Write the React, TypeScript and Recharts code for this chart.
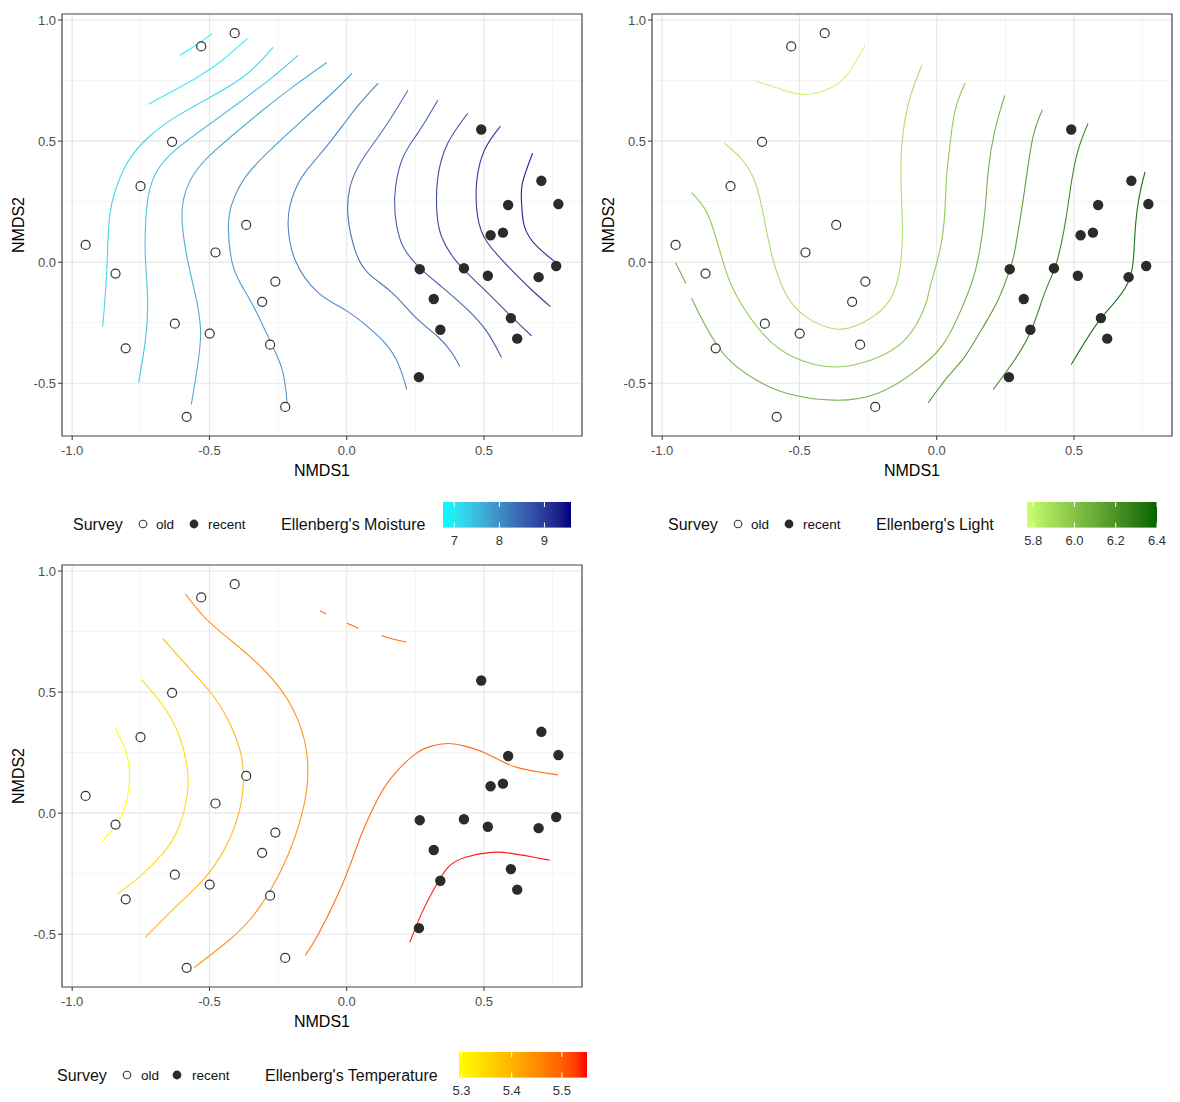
import React from 'react';
import { ComposedChart, Scatter, XAxis, YAxis, CartesianGrid, ReferenceArea } from 'recharts';

// NMDS site scores, identical in the three panels
const oldSites = [
  [-0.530, 0.891], [-0.408, 0.946], [-0.636, 0.497], [-0.751, 0.314], [-0.951, 0.071],
  [-0.842, -0.047], [-0.805, -0.356], [-0.626, -0.254], [-0.499, -0.295], [-0.478, 0.040],
  [-0.366, 0.154], [-0.260, -0.080], [-0.308, -0.164], [-0.279, -0.341], [-0.583, -0.639],
  [-0.224, -0.598],
];
const recentSites = [
  [0.490, 0.548], [0.709, 0.336], [0.771, 0.240], [0.588, 0.236], [0.524, 0.111],
  [0.569, 0.122], [0.266, -0.029], [0.427, -0.025], [0.514, -0.056], [0.699, -0.062],
  [0.763, -0.016], [0.317, -0.152], [0.341, -0.279], [0.598, -0.231], [0.621, -0.316],
  [0.263, -0.475],
];

const xDomain = [-1.037, 0.857];
const yDomain = [-0.718, 1.025];
const xMajor = [-1, -0.5, 0, 0.5];
const yMajor = [-0.5, 0, 0.5, 1];
const xMinor = [-0.75, -0.25, 0.25, 0.75];
const yMinor = [-0.25, 0.25, 0.75];

// --- Ellenberg's Moisture contours (ordisurf)
const moist1 = [[-0.609, 0.854], [-0.551, 0.895], [-0.489, 0.945]];
const moist2 = [[-0.722, 0.652], [-0.642, 0.702], [-0.551, 0.759], [-0.453, 0.834], [-0.362, 0.924]];
const moist3 = [[-0.889, -0.267], [-0.878, -0.114], [-0.871, 0.051], [-0.863, 0.195], [-0.842, 0.298], [-0.798, 0.413], [-0.722, 0.516], [-0.624, 0.599], [-0.504, 0.677], [-0.369, 0.772], [-0.268, 0.887]];
const moist4 = [[-0.758, -0.497], [-0.733, -0.320], [-0.725, -0.155], [-0.733, 0.009], [-0.733, 0.145], [-0.722, 0.277], [-0.689, 0.380], [-0.624, 0.463], [-0.515, 0.557], [-0.380, 0.669], [-0.271, 0.763], [-0.177, 0.854]];
const moist5 = [[-0.566, -0.588], [-0.540, -0.403], [-0.533, -0.267], [-0.551, -0.135], [-0.576, -0.011], [-0.598, 0.145], [-0.595, 0.256], [-0.569, 0.339], [-0.515, 0.422], [-0.424, 0.516], [-0.315, 0.619], [-0.188, 0.731], [-0.072, 0.825]];
const moist6 = [[-0.217, -0.588], [-0.235, -0.444], [-0.286, -0.308], [-0.333, -0.197], [-0.380, -0.102], [-0.417, -0.003], [-0.431, 0.145], [-0.417, 0.244], [-0.369, 0.351], [-0.279, 0.463], [-0.162, 0.586], [-0.042, 0.710], [0.019, 0.780]];
const moist7 = [[0.219, -0.526], [0.186, -0.415], [0.139, -0.333], [0.077, -0.267], [-0.006, -0.197], [-0.104, -0.126], [-0.188, 0.009], [-0.213, 0.145], [-0.206, 0.236], [-0.170, 0.339], [-0.115, 0.422], [-0.061, 0.496], [-0.006, 0.578], [0.048, 0.656], [0.114, 0.739]];
const moist8 = [[0.412, -0.431], [0.383, -0.374], [0.332, -0.308], [0.248, -0.225], [0.165, -0.126], [0.077, -0.044], [0.030, 0.051], [0.005, 0.187], [0.012, 0.310], [0.056, 0.422], [0.139, 0.557], [0.223, 0.710]];
const moist9 = [[0.564, -0.394], [0.513, -0.291], [0.441, -0.197], [0.346, -0.102], [0.274, -0.032], [0.212, 0.051], [0.183, 0.145], [0.175, 0.269], [0.201, 0.422], [0.259, 0.533], [0.332, 0.669]];
const moist10 = [[0.673, -0.304], [0.600, -0.225], [0.491, -0.102], [0.404, -0.003], [0.346, 0.104], [0.328, 0.215], [0.332, 0.351], [0.368, 0.491], [0.441, 0.615]];
const moist11 = [[0.742, -0.184], [0.673, -0.114], [0.600, -0.032], [0.513, 0.080], [0.477, 0.187], [0.473, 0.327], [0.502, 0.463], [0.560, 0.562]];
const moist12 = [[0.764, -0.003], [0.695, 0.063], [0.648, 0.145], [0.637, 0.244], [0.640, 0.327], [0.677, 0.450]];
const moistLines = [moist1, moist2, moist3, moist4, moist5, moist6, moist7, moist8, moist9, moist10, moist11, moist12];
const moistLevels = [6.75, 7.0, 7.25, 7.5, 7.75, 8.0, 8.25, 8.5, 8.75, 9.0, 9.25, 9.5];
const moistLimits = [6.75, 9.59];
const moistBreaks = [7, 8, 9];

// --- Ellenberg's Light contours
const lightArc = [[-0.660, 0.748], [-0.575, 0.717], [-0.490, 0.693], [-0.406, 0.710], [-0.333, 0.765], [-0.261, 0.895]];
const lightU1 = [[-0.775, 0.493], [-0.708, 0.422], [-0.660, 0.326], [-0.630, 0.188], [-0.599, 0.023], [-0.551, -0.128], [-0.478, -0.224], [-0.369, -0.276], [-0.272, -0.251], [-0.188, -0.183], [-0.139, -0.059], [-0.125, 0.147], [-0.130, 0.422], [-0.103, 0.655], [-0.054, 0.813]];
const lightU2 = [[-0.893, 0.287], [-0.842, 0.215], [-0.805, 0.105], [-0.769, -0.032], [-0.721, -0.155], [-0.624, -0.307], [-0.515, -0.396], [-0.376, -0.433], [-0.236, -0.403], [-0.115, -0.320], [-0.043, -0.183], [-0.024, -0.101], [0.012, 0.051], [0.030, 0.215], [0.036, 0.353], [0.049, 0.490], [0.067, 0.627], [0.103, 0.740]];
const lightShort = [[-0.951, -0.002], [-0.914, -0.087]];
const lightU3 = [[-0.893, -0.148], [-0.854, -0.238], [-0.805, -0.334], [-0.745, -0.416], [-0.660, -0.485], [-0.551, -0.540], [-0.376, -0.570], [-0.212, -0.540], [-0.079, -0.451], [0.018, -0.348], [0.078, -0.224], [0.127, -0.087], [0.157, 0.051], [0.176, 0.215], [0.188, 0.380], [0.212, 0.545], [0.248, 0.689]];
const lightD = [[-0.031, -0.581], [0.042, -0.471], [0.103, -0.389], [0.163, -0.279], [0.224, -0.155], [0.266, -0.032], [0.285, 0.051], [0.309, 0.215], [0.327, 0.353], [0.351, 0.518], [0.385, 0.630]];
const lightE = [[0.206, -0.526], [0.284, -0.403], [0.345, -0.279], [0.393, -0.128], [0.430, -0.025], [0.454, 0.078], [0.472, 0.188], [0.490, 0.326], [0.515, 0.463], [0.551, 0.573]];
const lightF = [[0.490, -0.423], [0.599, -0.231], [0.696, -0.087], [0.720, 0.078], [0.730, 0.215], [0.745, 0.311], [0.759, 0.373]];
const lightLines = [lightArc, lightU1, lightU2, lightShort, lightU3, lightD, lightE, lightF];
const lightLevels = [5.8, 5.9, 6.0, 6.1, 6.1, 6.2, 6.3, 6.4];
const lightLimits = [5.77, 6.4];
const lightBreaks = [5.8, 6.0, 6.2, 6.4];

// --- Ellenberg's Temperature contours
const temp1 = [[-0.844, 0.353], [-0.805, 0.257], [-0.791, 0.161], [-0.799, 0.064], [-0.830, -0.032], [-0.890, -0.114]];
const temp2 = [[-0.747, 0.552], [-0.672, 0.449], [-0.612, 0.326], [-0.581, 0.188], [-0.581, 0.078], [-0.612, -0.059], [-0.672, -0.169], [-0.757, -0.265], [-0.835, -0.334]];
const temp3 = [[-0.670, 0.721], [-0.575, 0.600], [-0.490, 0.490], [-0.430, 0.380], [-0.388, 0.257], [-0.376, 0.133], [-0.394, -0.004], [-0.442, -0.142], [-0.515, -0.265], [-0.612, -0.375], [-0.733, -0.513]];
const temp4 = [[-0.587, 0.905], [-0.515, 0.806], [-0.418, 0.710], [-0.321, 0.614], [-0.236, 0.504], [-0.176, 0.380], [-0.145, 0.243], [-0.145, 0.105], [-0.170, -0.032], [-0.212, -0.169], [-0.272, -0.307], [-0.345, -0.430], [-0.430, -0.526], [-0.557, -0.639]];
const tempTopA = [[-0.097, 0.835], [-0.075, 0.823]];
const tempTopB = [[0.000, 0.785], [0.042, 0.764]];
const tempTopC = [[0.127, 0.734], [0.175, 0.717], [0.218, 0.707]];
const tempS = [[-0.151, -0.588], [-0.103, -0.499], [-0.031, -0.334], [0.018, -0.197], [0.054, -0.087], [0.103, 0.037], [0.163, 0.147], [0.248, 0.243], [0.309, 0.277], [0.369, 0.288], [0.430, 0.277], [0.502, 0.250], [0.563, 0.215], [0.623, 0.188], [0.696, 0.171], [0.769, 0.158]];
const tempRed = [[0.230, -0.533], [0.272, -0.416], [0.321, -0.307], [0.369, -0.224], [0.430, -0.183], [0.527, -0.162], [0.599, -0.166], [0.672, -0.180], [0.739, -0.194]];
const tempLines = [temp1, temp2, temp3, temp4, tempTopA, tempTopB, tempTopC, tempS, tempRed];
const tempLevels = [5.3, 5.35, 5.4, 5.45, 5.5, 5.5, 5.5, 5.5, 5.55];
const tempLimits = [5.295, 5.55];
const tempBreaks = [5.3, 5.4, 5.5];

// colour ramp in CIELAB, like ggplot's scale_colour_gradient
const lin = (c: number) => {
  const v = c / 255;
  return v <= 0.04045 ? v / 12.92 : Math.pow((v + 0.055) / 1.055, 2.4);
};
const gam = (c: number) => {
  const v = c <= 0.0031308 ? 12.92 * c : 1.055 * Math.pow(c, 1 / 2.4) - 0.055;
  return Math.round(Math.min(1, Math.max(0, v)) * 255);
};
const hexToLab = (hex: string) => {
  const r = lin(parseInt(hex.slice(1, 3), 16));
  const g = lin(parseInt(hex.slice(3, 5), 16));
  const b = lin(parseInt(hex.slice(5, 7), 16));
  const X = (0.4124564 * r + 0.3575761 * g + 0.1804375 * b) / 0.95047;
  const Y = 0.2126729 * r + 0.7151522 * g + 0.072175 * b;
  const Z = (0.0193339 * r + 0.119192 * g + 0.9503041 * b) / 1.08883;
  const f = (t: number) => (t > 216 / 24389 ? Math.cbrt(t) : ((24389 / 27) * t + 16) / 116);
  const fx = f(X), fy = f(Y), fz = f(Z);
  return [116 * fy - 16, 500 * (fx - fy), 200 * (fy - fz)];
};
const labToHex = (lab: number[]) => {
  const fy = (lab[0] + 16) / 116, fx = fy + lab[1] / 500, fz = fy - lab[2] / 200;
  const inv = (t: number) => (t ** 3 > 216 / 24389 ? t ** 3 : (116 * t - 16) / (24389 / 27));
  const X = inv(fx) * 0.95047, Y = inv(fy), Z = inv(fz) * 1.08883;
  const r = 3.2404542 * X - 1.5371385 * Y - 0.4985314 * Z;
  const g = -0.969266 * X + 1.8760108 * Y + 0.041556 * Z;
  const b = 0.0556434 * X - 0.2040259 * Y + 1.0572252 * Z;
  return '#' + [r, g, b].map(gam).map((v) => v.toString(16).padStart(2, '0')).join('');
};
const mix = (low: string, high: string, t: number) => {
  const a = hexToLab(low), b = hexToLab(high);
  const k = Math.min(1, Math.max(0, t));
  return labToHex(a.map((v, i) => v + (b[i] - v) * k));
};

const toXY = (pts: number[][]) => pts.map(([x, y]) => ({ x, y }));
const fmt = (v: number) => v.toFixed(1);
const font = '"Liberation Sans", Arial, Helvetica, sans-serif';

const NoDot = () => <g />;
const OpenDot = (p: any) => <circle cx={p.cx} cy={p.cy} r={4.5} fill="#fff" stroke="#333" strokeWidth={1.2} />;
const FilledDot = (p: any) => <circle cx={p.cx} cy={p.cy} r={5.2} fill="#2b2b2b" />;

const XTitle = (p: any) => {
  const vb = p.viewBox;
  return (
    <text x={vb.x + vb.width / 2} y={vb.y + 40} textAnchor="middle" fontSize={16} fill="#000">NMDS1</text>
  );
};
const YTitle = (p: any) => {
  const vb = p.viewBox;
  const cy = vb.y + vb.height / 2;
  return (
    <text x={24} y={cy} transform={`rotate(-90 24 ${cy})`} textAnchor="middle" fontSize={16} fill="#000">NMDS2</text>
  );
};

const Panel = ({ left, top, lines, levels, limits, low, high }: any) => (
  <div style={{ position: 'absolute', left, top }}>
    <ComposedChart width={600} height={482} margin={{ top: 14, right: 18, bottom: 0, left: 0 }}>
      <CartesianGrid verticalValues={xMinor} horizontalValues={yMinor} stroke="#f2f2f2" strokeWidth={0.8} />
      <CartesianGrid verticalValues={xMajor} horizontalValues={yMajor} stroke="#e6e6e6" strokeWidth={1.1} />
      <XAxis
        type="number" dataKey="x" domain={xDomain} ticks={xMajor} interval={0} allowDataOverflow
        tickFormatter={fmt} tick={{ fill: '#4d4d4d', fontSize: 13 }} tickLine={{ stroke: '#333' }}
        tickSize={4} tickMargin={6} axisLine={false} height={46} label={{ content: XTitle }}
      />
      <YAxis
        type="number" dataKey="y" domain={yDomain} ticks={yMajor} interval={0} allowDataOverflow
        tickFormatter={fmt} tick={{ fill: '#4d4d4d', fontSize: 13 }} tickLine={{ stroke: '#333' }}
        tickSize={4} tickMargin={2} axisLine={false} width={62} label={{ content: YTitle }}
      />
      {lines.map((pts: number[][], i: number) => {
        const col = mix(low, high, (levels[i] - limits[0]) / (limits[1] - limits[0]));
        return (
          <Scatter
            key={i} data={toXY(pts)} fill={col} shape={NoDot}
            line={{ stroke: col, strokeWidth: 1.1, strokeOpacity: 0.9 }}
            lineType="joint" lineJointType="natural" isAnimationActive={false}
          />
        );
      })}
      <Scatter data={toXY(oldSites)} shape={OpenDot} isAnimationActive={false} />
      <Scatter data={toXY(recentSites)} shape={FilledDot} isAnimationActive={false} />
      <ReferenceArea
        x1={xDomain[0]} x2={xDomain[1]} y1={yDomain[0]} y2={yDomain[1]}
        fill="none" stroke="#444" strokeWidth={1.2} ifOverflow="visible"
      />
    </ComposedChart>
  </div>
);

const Txt = ({ x, y, size, children }: any) => (
  <div style={{ position: 'absolute', left: x, top: y - 10, height: 20, lineHeight: '20px', fontSize: size, whiteSpace: 'nowrap', color: '#111' }}>
    {children}
  </div>
);

const Legend = ({ lay, title, low, high, limits, breaks, digits }: any) => {
  const barH = 25.6;
  const stops = Array.from({ length: 11 }, (_, i) => i / 10);
  const pos = (v: number) => ((v - limits[0]) / (limits[1] - limits[0])) * lay.barW;
  const gid = 'g' + title.replace(/[^a-z]/gi, '');
  return (
    <>
      <Txt x={lay.survey} y={lay.textY} size={16}>Survey</Txt>
      <svg style={{ position: 'absolute', left: lay.oldDot - 6, top: lay.textY - 7 }} width={12} height={12}>
        <circle cx={6} cy={6} r={3.8} fill="#fff" stroke="#333" strokeWidth={1.1} />
      </svg>
      <Txt x={lay.oldLabel} y={lay.textY} size={13.5}>old</Txt>
      <svg style={{ position: 'absolute', left: lay.recentDot - 6, top: lay.textY - 7 }} width={12} height={12}>
        <circle cx={6} cy={6} r={4.4} fill="#2b2b2b" />
      </svg>
      <Txt x={lay.recentLabel} y={lay.textY} size={13.5}>recent</Txt>
      <Txt x={lay.titleX} y={lay.textY} size={16}>{title}</Txt>
      <svg style={{ position: 'absolute', left: lay.barX, top: lay.barY }} width={lay.barW} height={barH}>
        <defs>
          <linearGradient id={gid} x1="0" x2="1" y1="0" y2="0">
            {stops.map((t) => <stop key={t} offset={t} stopColor={mix(low, high, t)} />)}
          </linearGradient>
        </defs>
        <rect x={0} y={0} width={lay.barW} height={barH} fill={`url(#${gid})`} />
        {breaks.map((b: number) => (
          <g key={b} stroke="#fff" strokeWidth={1}>
            <line x1={pos(b)} x2={pos(b)} y1={0} y2={5} />
            <line x1={pos(b)} x2={pos(b)} y1={barH - 5} y2={barH} />
          </g>
        ))}
      </svg>
      {breaks.map((b: number) => (
        <div key={b} style={{ position: 'absolute', left: lay.barX + pos(b) - 20, width: 40, textAlign: 'center', top: lay.barY + 31, fontSize: 13, lineHeight: '16px', color: '#333' }}>
          {b.toFixed(digits)}
        </div>
      ))}
    </>
  );
};

const layMoist = { survey: 73, oldDot: 143, oldLabel: 156, recentDot: 194, recentLabel: 208, titleX: 281, barX: 443, barW: 128, barY: 502, textY: 525 };
const layLight = { survey: 668, oldDot: 738, oldLabel: 751, recentDot: 789, recentLabel: 803, titleX: 876, barX: 1027, barW: 130, barY: 502, textY: 525 };
const layTemp = { survey: 57, oldDot: 127, oldLabel: 141, recentDot: 177, recentLabel: 192, titleX: 265, barX: 459, barW: 128, barY: 1052, textY: 1076 };

export default function App() {
  return (
    <div style={{ position: 'absolute', left: 0, top: 0, width: 1180, height: 1102, background: '#fff', fontFamily: font, overflow: 'hidden' }}>
      <Panel left={0} top={0} lines={moistLines} levels={moistLevels} limits={moistLimits} low="#00ffff" high="#000080" />
      <Panel left={590} top={0} lines={lightLines} levels={lightLevels} limits={lightLimits} low="#caff70" high="#006400" />
      <Panel left={0} top={551} lines={tempLines} levels={tempLevels} limits={tempLimits} low="#ffff00" high="#ff0000" />
      <Legend lay={layMoist} title="Ellenberg's Moisture" low="#00ffff" high="#000080" limits={moistLimits} breaks={moistBreaks} digits={0} />
      <Legend lay={layLight} title="Ellenberg's Light" low="#caff70" high="#006400" limits={lightLimits} breaks={lightBreaks} digits={1} />
      <Legend lay={layTemp} title="Ellenberg's Temperature" low="#ffff00" high="#ff0000" limits={tempLimits} breaks={tempBreaks} digits={1} />
    </div>
  );
}
